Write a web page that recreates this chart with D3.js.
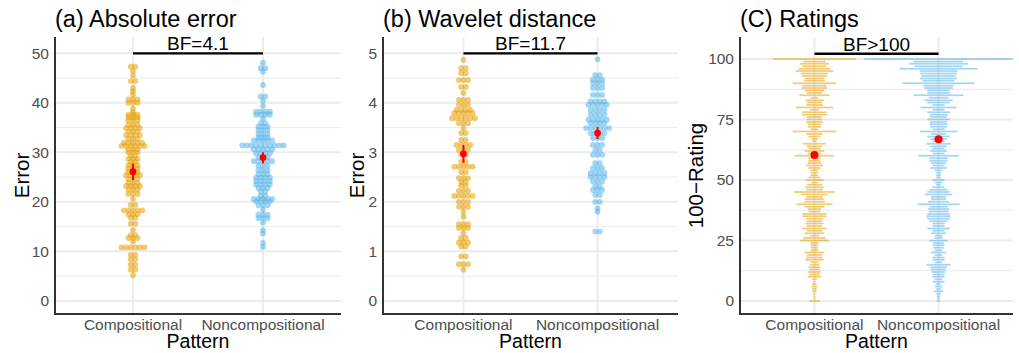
<!DOCTYPE html>
<html>
<head>
<meta charset="utf-8">
<script src="https://cdn.jsdelivr.net/npm/d3@7"></script>
<style>
  body { margin: 0; background: #fff; }
  svg { display: block; font-family: "Liberation Sans", Arial, sans-serif; }
</style>
</head>
<body>
<svg id="chart" width="1019" height="353"></svg>
<script>
const patterns = ['Compositional', 'Noncompositional'];
const patternColors = ['#E69F00', '#56B4E9'];

// dot plot rows: [value, dots in the row]
const absCompRows = [
  [47.3, 2], [46.4, 1], [45.5, 1], [44.4, 2], [43.0, 1], [42.3, 1], [41.6, 1], [40.7, 3], [40.0, 3],
  [38.9, 1], [38.1, 1], [37.6, 3], [37.1, 3], [36.5, 3], [35.6, 3], [34.9, 4], [34.2, 3], [33.5, 4],
  [32.7, 3], [31.9, 5], [31.3, 6], [30.6, 3], [30.0, 3], [29.3, 2], [28.7, 3], [28.1, 2], [27.4, 3],
  [26.7, 3], [26.0, 3], [25.4, 4], [24.6, 3], [23.8, 3], [23.2, 4], [22.5, 3], [21.6, 3], [20.6, 1],
  [19.4, 2], [18.3, 5], [17.5, 3], [16.8, 2], [15.6, 2], [14.3, 1], [13.3, 2], [12.7, 3], [12.0, 1],
  [10.8, 6], [9.3, 2], [8.4, 2], [7.3, 2], [6.3, 2], [5.2, 1]
];
const absNoncompRows = [
  [48.1, 1], [47.0, 2], [46.3, 1], [43.6, 1], [41.3, 2], [40.4, 1], [39.4, 1], [38.2, 4], [37.6, 4],
  [36.8, 1], [35.9, 2], [35.2, 3], [34.5, 3], [33.7, 3], [33.0, 3], [32.4, 5], [31.4, 10], [30.6, 5],
  [29.8, 4], [29.0, 3], [28.2, 5], [27.3, 3], [26.4, 3], [25.6, 3], [24.9, 4], [24.2, 4], [23.5, 4],
  [22.8, 3], [22.1, 2], [21.2, 2], [20.6, 5], [20.1, 4], [19.3, 3], [18.4, 1], [17.4, 3], [16.7, 3],
  [15.8, 1], [14.3, 1], [13.6, 1], [11.7, 1], [10.9, 1]
];
const wavCompRows = [
  [4.87, 1], [4.7, 2], [4.6, 2], [4.46, 3], [4.32, 2], [4.2, 1], [4.06, 3], [3.96, 3], [3.86, 4],
  [3.79, 5], [3.69, 6], [3.59, 3], [3.49, 1], [3.39, 2], [3.25, 2], [3.15, 4], [3.05, 3], [2.95, 2],
  [2.81, 2], [2.71, 5], [2.6, 2], [2.48, 3], [2.4, 2], [2.33, 2], [2.22, 3], [2.12, 5], [2.0, 3],
  [1.9, 3], [1.8, 1], [1.7, 1], [1.55, 3], [1.47, 3], [1.37, 1], [1.27, 2], [1.18, 3], [1.1, 2],
  [0.9, 2], [0.74, 3], [0.63, 1]
];
const wavNoncompRows = [
  [4.88, 1], [4.56, 2], [4.47, 3], [4.4, 3], [4.3, 3], [4.16, 3], [4.03, 4], [3.96, 5], [3.86, 4],
  [3.76, 4], [3.66, 5], [3.59, 4], [3.49, 6], [3.39, 4], [3.29, 3], [3.15, 3], [3.05, 2], [2.95, 3],
  [2.78, 2], [2.68, 3], [2.58, 4], [2.5, 4], [2.41, 3], [2.31, 2], [2.24, 3], [2.14, 2], [2.0, 2],
  [1.87, 1], [1.8, 1], [1.4, 2]
];

// ratings: number of responses for 100-Rating = 0, 1, ..., 100
const ratingCompCounts = [
  7, 1, 1, 1, 3, 3, 4, 3, 1, 3,
  9, 7, 8, 7, 8, 6, 5, 12, 11, 10,
  13, 5, 5, 5, 5, 19, 15, 6, 13, 10,
  16, 10, 12, 10, 11, 16, 16, 8, 9, 13,
  24, 14, 13, 11, 18, 27, 11, 12, 10, 4,
  12, 8, 5, 5, 5, 8, 11, 9, 8, 8,
  26, 9, 13, 8, 10, 15, 3, 5, 8, 11,
  29, 5, 9, 9, 11, 10, 10, 17, 16, 6,
  25, 11, 10, 12, 5, 20, 10, 13, 17, 16,
  29, 14, 13, 17, 18, 25, 21, 16, 19, 15,
  55
];
const ratingNoncompCounts = [
  2, 2, 2, 3, 6, 3, 5, 3, 8, 5,
  8, 8, 9, 10, 11, 16, 5, 8, 8, 5,
  10, 5, 7, 8, 7, 12, 5, 5, 10, 8,
  15, 8, 8, 12, 15, 16, 15, 13, 14, 12,
  28, 14, 10, 10, 18, 15, 12, 8, 3, 5,
  8, 3, 3, 3, 5, 11, 8, 10, 12, 12,
  27, 8, 11, 8, 11, 16, 8, 11, 15, 10,
  25, 8, 11, 12, 11, 15, 11, 12, 15, 8,
  24, 8, 15, 19, 13, 33, 15, 15, 19, 20,
  48, 21, 25, 23, 25, 25, 52, 32, 39, 33,
  99
];

// means with intervals, per pattern
const absMeans = [26.1, 28.95], absLower = [24.4, 27.8], absUpper = [27.7, 30.0];
const wavMeans = [2.97, 3.39], wavLower = [2.79, 3.27], wavUpper = [3.15, 3.51];
const ratingMeans = [60.3, 66.8], ratingLower = [59.4, 65.9], ratingUpper = [61.2, 67.7];

const absTicks = [0, 10, 20, 30, 40, 50], absMinor = [5, 15, 25, 35, 45];
const wavTicks = [0, 1, 2, 3, 4, 5], wavMinor = [0.5, 1.5, 2.5, 3.5, 4.5];
const ratingTicks = [0, 25, 50, 75, 100], ratingMinor = [12.5, 37.5, 62.5, 87.5];

const svg = d3.select('#chart');
const plotTop = 37, plotBottom = 314;

function drawFrame(p) {
  const g = svg.append('g');
  const x = d3.scalePoint().domain(patterns).range([p.left, p.right]).padding(0.6);
  const y = d3.scaleLinear().domain(p.domain).range([plotBottom, plotTop]);

  // grid
  g.selectAll('.minor').data(p.minor).enter().append('line')
    .attr('x1', p.left).attr('x2', p.right)
    .attr('y1', d => y(d)).attr('y2', d => y(d))
    .attr('stroke', '#ebebeb').attr('stroke-width', 1);
  g.selectAll('.major').data(p.ticks).enter().append('line')
    .attr('x1', p.left).attr('x2', p.right)
    .attr('y1', d => y(d)).attr('y2', d => y(d))
    .attr('stroke', '#ebebeb').attr('stroke-width', 2);
  g.selectAll('.vgrid').data(patterns).enter().append('line')
    .attr('x1', d => x(d)).attr('x2', d => x(d))
    .attr('y1', plotTop).attr('y2', plotBottom)
    .attr('stroke', '#ebebeb').attr('stroke-width', 2);

  return { g, x, y };
}

function drawDecor(p, g, x, y) {
  // mean +- interval
  patterns.forEach((pat, i) => {
    g.append('line')
      .attr('x1', x(pat)).attr('x2', x(pat))
      .attr('y1', y(p.lower[i])).attr('y2', y(p.upper[i]))
      .attr('stroke', 'red').attr('stroke-width', 2);
    g.append('circle')
      .attr('cx', x(pat)).attr('cy', y(p.means[i]))
      .attr('r', p.meanR).attr('fill', 'red');
  });

  // Bayes factor bracket
  g.append('line')
    .attr('x1', x(patterns[0])).attr('x2', x(patterns[1]))
    .attr('y1', y(p.bfAt)).attr('y2', y(p.bfAt))
    .attr('stroke', '#000').attr('stroke-width', 2.4);
  g.append('text')
    .attr('x', (x(patterns[0]) + x(patterns[1])) / 2)
    .attr('y', y(p.bfAt) - 3)
    .attr('text-anchor', 'middle')
    .style('font-size', '19px')
    .text(p.bf);

  // axes
  g.append('line')
    .attr('x1', p.left).attr('x2', p.left).attr('y1', plotTop).attr('y2', plotBottom + 1)
    .attr('stroke', '#333').attr('stroke-width', 2);
  g.append('line')
    .attr('x1', p.left - 1).attr('x2', p.right).attr('y1', plotBottom).attr('y2', plotBottom)
    .attr('stroke', '#333').attr('stroke-width', 2);

  g.selectAll('.ytick').data(p.ticks).enter().append('text')
    .attr('x', p.left - 6).attr('y', d => y(d)).attr('dy', '0.35em')
    .attr('text-anchor', 'end')
    .style('font-size', '15.5px').style('fill', '#4d4d4d')
    .text(d => d);
  g.selectAll('.xtick').data(patterns).enter().append('text')
    .attr('x', d => x(d)).attr('y', 330)
    .attr('text-anchor', 'middle')
    .style('font-size', '15.5px').style('fill', '#4d4d4d')
    .text(d => d);

  g.append('text')
    .attr('x', (p.left + p.right) / 2).attr('y', 348)
    .attr('text-anchor', 'middle')
    .style('font-size', '19.5px')
    .text('Pattern');
  g.append('text')
    .attr('transform', `translate(${p.yTitleX},${(plotTop + plotBottom) / 2}) rotate(-90)`)
    .attr('dy', '0.35em')
    .attr('text-anchor', 'middle')
    .style('font-size', '20.5px')
    .text(p.yTitle);
  g.append('text')
    .attr('x', p.left).attr('y', 27)
    .style('font-size', '23.5px')
    .text(p.title);
}

function drawDotPanel(p) {
  const { g, x, y } = drawFrame(p);
  const step = 4.6;
  p.rows.forEach((rows, gi) => {
    const dots = [];
    rows.forEach(([v, n]) => {
      for (let i = 0; i < n; i++) dots.push({ v, off: (i - (n - 1) / 2) * step });
    });
    g.append('g').selectAll('circle').data(dots).enter().append('circle')
      .attr('cx', d => x(patterns[gi]) + d.off)
      .attr('cy', d => y(d.v))
      .attr('r', 2.9)
      .attr('fill', patternColors[gi])
      .attr('fill-opacity', 0.55);
  });
  drawDecor(p, g, x, y);
}

function drawRatingPanel(p) {
  const { g, x, y } = drawFrame(p);
  const w = d3.scaleLinear().domain([0, 1]).range([0, 1.5]);
  p.counts.forEach((counts, gi) => {
    const dots = [];
    counts.forEach((n, v) => {
      for (let i = 0; i < n; i++) dots.push({ v, off: w(i - (n - 1) / 2) });
    });
    g.append('g').selectAll('circle').data(dots).enter().append('circle')
      .attr('cx', d => x(patterns[gi]) + d.off)
      .attr('cy', d => y(d.v))
      .attr('r', 1)
      .attr('fill', patternColors[gi])
      .attr('fill-opacity', 0.5);
  });
  drawDecor(p, g, x, y);
}

drawDotPanel({
  left: 55, right: 341, domain: [-2.65, 53.3], ticks: absTicks, minor: absMinor,
  rows: [absCompRows, absNoncompRows], means: absMeans, lower: absLower, upper: absUpper, meanR: 3.4,
  bf: 'BF=4.1', bfAt: 50, title: '(a) Absolute error', yTitle: 'Error', yTitleX: 22
});
drawDotPanel({
  left: 383, right: 678, domain: [-0.265, 5.33], ticks: wavTicks, minor: wavMinor,
  rows: [wavCompRows, wavNoncompRows], means: wavMeans, lower: wavLower, upper: wavUpper, meanR: 3.4,
  bf: 'BF=11.7', bfAt: 5, title: '(b) Wavelet distance', yTitle: 'Error', yTitleX: 357
});
drawRatingPanel({
  left: 740, right: 1013, domain: [-5.37, 109.1], ticks: ratingTicks, minor: ratingMinor,
  counts: [ratingCompCounts, ratingNoncompCounts], means: ratingMeans, lower: ratingLower, upper: ratingUpper, meanR: 4,
  bf: 'BF>100', bfAt: 102.2, title: '(C) Ratings', yTitle: '100−Rating', yTitleX: 696
});
</script>
</body>
</html>
